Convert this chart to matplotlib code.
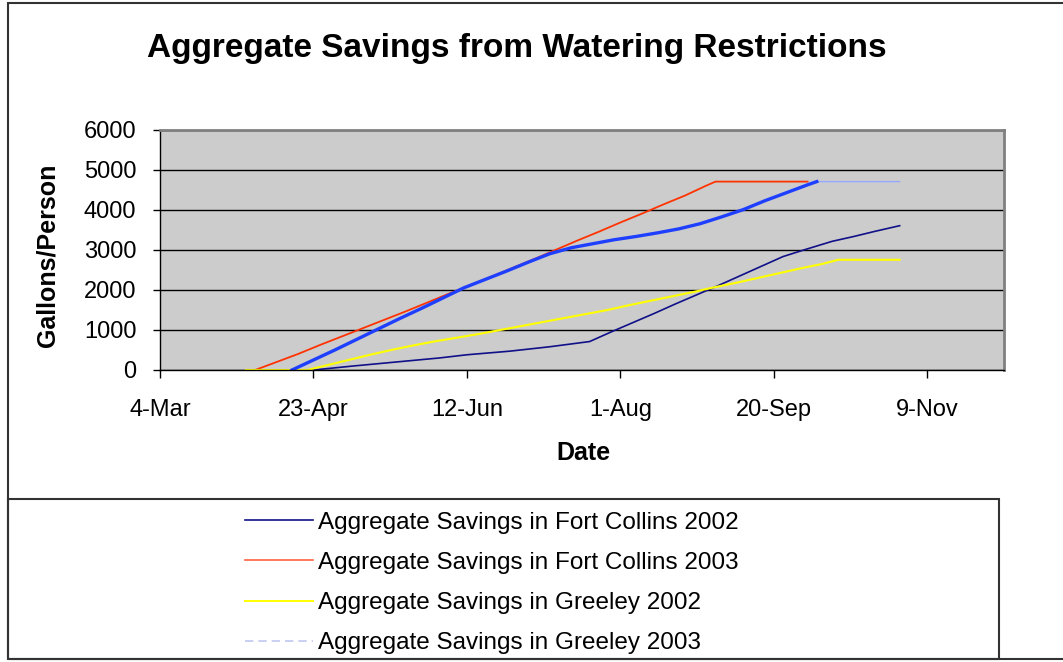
import numpy as np
import pandas as pd
import matplotlib
matplotlib.use("Agg")
import matplotlib.pyplot as plt
from matplotlib.lines import Line2D
from matplotlib.patches import Rectangle

plt.rcParams['font.family'] = ['Liberation Sans', 'DejaVu Sans']

# ---- data (gallons/person) ----
fc02_dates = ["2003-04-23", "2003-05-06", "2003-05-20", "2003-06-03", "2003-06-12", "2003-06-26",
              "2003-07-09", "2003-07-22", "2003-07-29", "2003-08-05", "2003-08-12", "2003-08-19",
              "2003-08-26", "2003-09-02", "2003-09-09", "2003-09-16", "2003-09-23", "2003-09-30",
              "2003-10-09", "2003-10-16", "2003-10-23", "2003-10-31"]
fc02_vals = [0, 100, 200, 300, 380, 470, 580, 710, 950, 1180, 1410, 1650,
             1880, 2110, 2350, 2590, 2830, 3000, 3210, 3330, 3460, 3600]

fc03_dates = ["2003-04-04", "2003-04-11", "2003-04-18", "2003-04-25", "2003-05-02", "2003-05-09",
              "2003-05-16", "2003-05-23", "2003-05-30", "2003-06-06", "2003-06-13", "2003-06-20",
              "2003-06-27", "2003-07-04", "2003-07-11", "2003-07-18", "2003-07-25", "2003-08-01",
              "2003-08-08", "2003-08-15", "2003-08-22", "2003-08-29", "2003-09-01", "2003-10-01"]
fc03_vals = [0, 200, 400, 620, 830, 1040, 1250, 1460, 1680, 1900, 2110, 2330,
             2550, 2770, 3000, 3230, 3450, 3680, 3900, 4130, 4350, 4600, 4700, 4700]

gr02_dates = ["2003-04-01", "2003-04-21", "2003-04-28", "2003-05-05", "2003-05-12", "2003-05-19",
              "2003-05-26", "2003-06-02", "2003-06-09", "2003-06-16", "2003-06-23", "2003-06-30",
              "2003-07-07", "2003-07-14", "2003-07-21", "2003-07-28", "2003-08-04", "2003-08-11",
              "2003-08-18", "2003-08-25", "2003-09-01", "2003-09-08", "2003-09-15", "2003-09-22",
              "2003-09-29", "2003-10-06", "2003-10-11", "2003-10-31"]
gr02_vals = [0, 0, 130, 260, 390, 510, 620, 720, 810, 900, 1000, 1100,
             1200, 1300, 1400, 1500, 1620, 1730, 1840, 1950, 2070, 2180, 2300, 2420,
             2540, 2650, 2750, 2750]

gr03_dates = ["2003-04-16", "2003-04-23", "2003-04-30", "2003-05-07", "2003-05-14", "2003-05-21",
              "2003-05-28", "2003-06-04", "2003-06-11", "2003-06-18", "2003-06-25", "2003-07-02",
              "2003-07-09", "2003-07-16", "2003-07-23", "2003-07-30", "2003-08-06", "2003-08-13",
              "2003-08-20", "2003-08-27", "2003-09-03", "2003-09-10", "2003-09-17", "2003-09-24",
              "2003-10-01", "2003-10-04", "2003-10-31"]
gr03_vals = [0, 250, 500, 760, 1020, 1280, 1530, 1790, 2050, 2260, 2470, 2690,
             2900, 3050, 3150, 3250, 3330, 3420, 3520, 3650, 3820, 4000, 4220, 4420,
             4620, 4700, 4700]

tick_dates = ["2003-03-04", "2003-04-23", "2003-06-12", "2003-08-01", "2003-09-20", "2003-11-09"]
tick_labels = ["4-Mar", "23-Apr", "12-Jun", "1-Aug", "20-Sep", "9-Nov"]
labels = ["Aggregate Savings in Fort Collins 2002", "Aggregate Savings in Fort Collins 2003",
          "Aggregate Savings in Greeley 2002", "Aggregate Savings in Greeley 2003"]

W, H = 1063, 662
fig = plt.figure(figsize=(W / 100, H / 100), dpi=100)

def fx(px):
    return px / W

def fy(py):
    return 1 - py / H

ax = fig.add_axes([fx(160), fy(370), fx(1004 - 160), (370 - 129.5) / H])
ax.set_facecolor('#cccccc')

d = pd.to_datetime
ax.plot(d(fc02_dates), fc02_vals, color='#101088', lw=1.2)
ax.plot(d(fc03_dates), fc03_vals, color='#ff3300', lw=1.3)
ax.plot(d(gr02_dates), gr02_vals, color='#ffff00', lw=1.5)
ax.plot(d(gr03_dates), gr03_vals, color='#99a8ff', lw=1)
ax.plot(d(gr03_dates[:-1]), gr03_vals[:-1], color='#1f3fff', lw=2.4)

ax.set_xlim(d("2003-03-04"), d("2003-12-04"))
ax.set_ylim(0, 6000)
ax.set_xticks(d(tick_dates))
ax.set_xticklabels(tick_labels)
ax.set_yticks(np.arange(0, 6001, 1000))
ax.tick_params(axis='x', direction='out', length=6, width=1, labelsize=17, pad=15)
ax.tick_params(axis='y', direction='out', length=5, width=1, labelsize=17, pad=12)
ax.yaxis.grid(True, color='black', lw=1)
ax.set_axisbelow(True)
for s in ['left', 'bottom']:
    ax.spines[s].set_color('black')
    ax.spines[s].set_linewidth(1)
for s in ['top', 'right']:
    ax.spines[s].set_color('#808080')
    ax.spines[s].set_linewidth(2)

fig.text(fx(517), fy(49), "Aggregate Savings from Watering Restrictions",
         ha='center', va='center', fontsize=24, fontweight='bold')
fig.text(fx(48), fy(255), "Gallons/Person", rotation=90,
         ha='center', va='center', fontsize=18, fontweight='bold')
fig.text(fx(583), fy(453), "Date", ha='center', va='center', fontsize=18, fontweight='bold')

# outer chart border and legend box
fig.patches.append(Rectangle((fx(8), fy(659)), fx(1080 - 8), (659 - 3) / H,
                             transform=fig.transFigure, fill=False, ec='#333333', lw=1.5))
fig.patches.append(Rectangle((fx(8), fy(659)), fx(999 - 8), (659 - 499) / H,
                             transform=fig.transFigure, fill=False, ec='#333333', lw=1.5))

handles = [Line2D([], [], color='#101088', lw=1.2),
           Line2D([], [], color='#ff6040', lw=1.2),
           Line2D([], [], color='#ffff00', lw=1.4),
           Line2D([], [], color='#c0c8f0', lw=1.2, ls=(0, (5, 3)))]
fig.legend(handles, labels, loc='center', bbox_to_anchor=(fx(492), fy(583)),
           frameon=False, fontsize=17.5, handlelength=2.8, handletextpad=0.2,
           labelspacing=0.75)

fig.savefig("out.png", dpi=100)
